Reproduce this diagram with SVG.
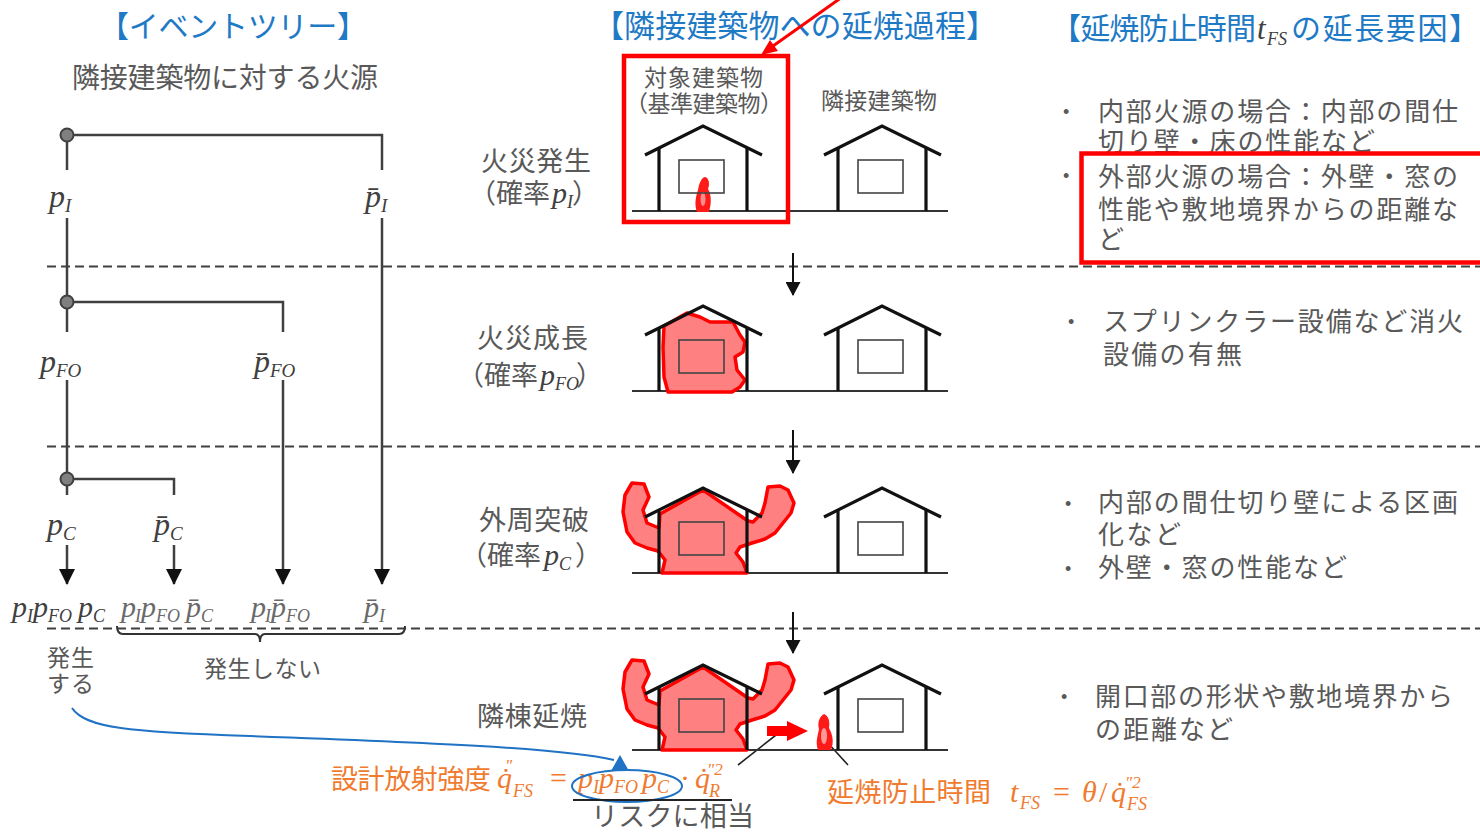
<svg xmlns="http://www.w3.org/2000/svg" xmlns:xlink="http://www.w3.org/1999/xlink" width="1480" height="832" viewBox="0 0 1480 832">
<defs>
<style>
.jp{font-family:"Noto Sans CJK JP","Noto Sans",sans-serif;fill:#595959}
.ttl{fill:#1f7ac6}
.m{font-family:"Liberation Serif",serif;font-style:italic;fill:#404040}
.up{font-family:"Liberation Serif",serif;fill:#404040}
.or{fill:#f07b2f}
.lt{fill:#6a6a6a}
.tree{stroke:#404040;stroke-width:2.5;fill:none}
.node{fill:#808080;stroke:#404040;stroke-width:2}
.sep{stroke:#404040;stroke-width:2;stroke-dasharray:9 5;fill:none}
.hs{stroke:#111;stroke-width:3.2;fill:none}
.win{stroke:#444;stroke-width:1.6;fill:none}
.gnd{stroke:#333;stroke-width:2.2}
.fire{fill:#ff8080;stroke:#ff0000;stroke-width:3.5;stroke-linejoin:round}
.flame{fill:#ff1a1a}
.hl{fill:none;stroke:#ff0000;stroke-width:4.5}
.bul{font-family:"Liberation Sans",sans-serif;font-size:18px;fill:#595959}
</style>
<marker id="ah-tree" markerUnits="userSpaceOnUse" markerWidth="16" markerHeight="16" viewBox="0 0 16 16" refX="15" refY="8" orient="auto">
<path d="M0,0 L16,8 L0,16 Z" fill="#111"/>
</marker>
<marker id="ah-step" markerUnits="userSpaceOnUse" markerWidth="14" markerHeight="15" viewBox="0 0 14 15" refX="13" refY="7.5" orient="auto">
<path d="M0,0 L14,7.5 L0,15 Z" fill="#111"/>
</marker>
<g id="house">
<polyline class="hs" points="-58,-56 0,-85 59,-56"/>
<path class="hs" d="M-44,-63V0M44,-63V0"/>
<rect class="win" x="-24" y="-51" width="45" height="33"/>
</g>
<path id="breach-fire" d="M659,528 L647,523 L643,510 L649,497 L644,484 L632,483 L625,495 L623,512 L627,532 L635,543 L647,548 L658,551 L665,560 L662,573 L747,573 L743,562 L736,553 L740,547 L752,543 L765,539 L775,533 L783,523 L791,513 L794,503 L788,490 L780,486 L768,487 L765,503 L762,513 L753,522 L748,521 L703,490 L660,514 Z"/>
</defs>

<rect width="1480" height="832" fill="#ffffff"/>

<!-- column headings -->
<g id="headings">
<text class="jp ttl" x="99" y="37" font-size="30" textLength="268" lengthAdjust="spacing">【イベントツリー】</text>
<text class="jp ttl" x="593" y="37" font-size="31" textLength="404" lengthAdjust="spacing">【隣接建築物への延焼過程】</text>
<text class="jp ttl" x="1051" y="39" font-size="30" textLength="205" lengthAdjust="spacing">【延焼防止時間</text>
<text class="m ttl" x="1257" y="39" font-size="31">t</text>
<text class="m ttl" x="1267" y="45" font-size="18">FS</text>
<text class="jp ttl" x="1291" y="39" font-size="30" textLength="188" lengthAdjust="spacing">の延長要因】</text>
<text class="jp" x="72" y="88" font-size="28" textLength="306" lengthAdjust="spacing">隣接建築物に対する火源</text>
</g>

<!-- stage separators -->
<g id="separators">
<line class="sep" x1="47" y1="266.5" x2="1480" y2="266.5"/>
<line class="sep" x1="47" y1="446.5" x2="1480" y2="446.5"/>
<line class="sep" x1="47" y1="628.5" x2="1480" y2="628.5"/>
</g>

<!-- event tree branches and step arrows -->
<g id="connectors">
<path class="tree" d="M67,170 V135 H382 V170"/>
<path class="tree" d="M67,218 V332"/>
<path class="tree" d="M67,302 H283 V332"/>
<path class="tree" d="M382,218 V584" marker-end="url(#ah-tree)"/>
<path class="tree" d="M67,380 V495"/>
<path class="tree" d="M67,479 H174 V495"/>
<path class="tree" d="M283,380 V584" marker-end="url(#ah-tree)"/>
<path class="tree" d="M67,545 V584" marker-end="url(#ah-tree)"/>
<path class="tree" d="M174,545 V584" marker-end="url(#ah-tree)"/>
<line x1="793" y1="253" x2="793" y2="295" stroke="#111" stroke-width="2" marker-end="url(#ah-step)"/>
<line x1="793" y1="430" x2="793" y2="473" stroke="#111" stroke-width="2" marker-end="url(#ah-step)"/>
<line x1="793" y1="612" x2="793" y2="653" stroke="#111" stroke-width="2" marker-end="url(#ah-step)"/>
<!-- pointer to the reference building -->
<line x1="845" y1="-5" x2="773" y2="46" stroke="#ff0000" stroke-width="3"/>
<polygon points="761,55 770,40 778,51" fill="#ff0000"/>
<!-- risk link -->
<path d="M72,708 C85,728 130,732 250,736 C420,742 560,748 614,760" fill="none" stroke="#1f72c4" stroke-width="2"/>
<polygon points="611,771 629,771 620,755" fill="#1f72c4"/>
<!-- leader lines -->
<line x1="738" y1="765" x2="785" y2="728" stroke="#222" stroke-width="1.6"/>
<line x1="827" y1="742" x2="848" y2="765" stroke="#222" stroke-width="1.6"/>
</g>

<!-- event tree nodes -->
<g id="tree-node-ignition"><circle class="node" cx="67" cy="135" r="6.5"/></g>
<g id="tree-node-growth"><circle class="node" cx="67" cy="302" r="6.5"/></g>
<g id="tree-node-breach"><circle class="node" cx="67" cy="479" r="6.5"/></g>

<g id="label-pI">
<text class="m" x="49" y="207" font-size="32">p<tspan font-size="19" dy="5">I</tspan></text>
<text class="m" x="365" y="207" font-size="32">p̄<tspan font-size="19" dy="5">I</tspan></text>
</g>
<g id="label-pFO">
<text class="m" x="40" y="372" font-size="32">p<tspan font-size="19" dy="5">FO</tspan></text>
<text class="m" x="254" y="372" font-size="32">p̄<tspan font-size="19" dy="5">FO</tspan></text>
</g>
<g id="label-pC">
<text class="m" x="47" y="535" font-size="32">p<tspan font-size="19" dy="5">C</tspan></text>
<text class="m" x="154" y="535" font-size="32">p̄<tspan font-size="19" dy="5">C</tspan></text>
</g>

<!-- outcome probabilities -->
<g id="outcomes" font-size="30">
<text class="m" y="617"><tspan x="12">p</tspan><tspan x="27" dy="5" font-size="18">I</tspan><tspan x="33" dy="-5">p</tspan><tspan x="48" dy="5" font-size="18">FO</tspan><tspan x="78" dy="-5">p</tspan><tspan x="93" dy="5" font-size="18">C</tspan></text>
<text class="m lt" y="617"><tspan x="121">p</tspan><tspan x="135" dy="5" font-size="18">I</tspan><tspan x="141" dy="-5">p</tspan><tspan x="156" dy="5" font-size="18">FO</tspan><tspan x="186" dy="-5">p̄</tspan><tspan x="201" dy="5" font-size="18">C</tspan></text>
<text class="m lt" y="617"><tspan x="251">p</tspan><tspan x="265" dy="5" font-size="18">I</tspan><tspan x="271" dy="-5">p̄</tspan><tspan x="286" dy="5" font-size="18">FO</tspan></text>
<text class="m lt" y="617"><tspan x="364">p̄</tspan><tspan x="379" dy="5" font-size="18">I</tspan></text>
<path d="M117,626 Q117,634 123,634 L255,634 Q260,634 260,642 Q260,634 265,634 L399,634 Q405,634 405,626" fill="none" stroke="#333" stroke-width="2"/>
<text class="jp" x="47" y="666" font-size="23" textLength="47" lengthAdjust="spacing">発生</text>
<text class="jp" x="47" y="692" font-size="23" textLength="47" lengthAdjust="spacing">する</text>
<text class="jp" x="204" y="677" font-size="23" textLength="117" lengthAdjust="spacing">発生しない</text>
</g>

<!-- stage labels -->
<g id="stage-ignition">
<text class="jp" x="481" y="171" font-size="27" textLength="110" lengthAdjust="spacing">火災発生</text>
<text class="jp" x="469" y="203" font-size="27">（確率</text>
<text class="m" x="552" y="203" font-size="30">p<tspan font-size="18" dy="5">I</tspan></text>
<text class="jp" x="572" y="203" font-size="27">）</text>
</g>
<g id="stage-growth">
<text class="jp" x="477" y="348" font-size="27" textLength="111" lengthAdjust="spacing">火災成長</text>
<text class="jp" x="457" y="385" font-size="27">（確率</text>
<text class="m" x="540" y="385" font-size="30">p<tspan font-size="18" dy="5">FO</tspan></text>
<text class="jp" x="576" y="385" font-size="27">）</text>
</g>
<g id="stage-breach">
<text class="jp" x="479" y="530" font-size="27" textLength="110" lengthAdjust="spacing">外周突破</text>
<text class="jp" x="460" y="565" font-size="27">（確率</text>
<text class="m" x="544" y="565" font-size="30">p<tspan font-size="18" dy="5">C</tspan></text>
<text class="jp" x="575" y="565" font-size="27">）</text>
</g>
<g id="stage-spread">
<text class="jp" x="477" y="726" font-size="27" textLength="110" lengthAdjust="spacing">隣棟延焼</text>
</g>

<!-- stage 1: ignition -->
<g id="scene-ignition">
<line class="gnd" x1="632" y1="211" x2="948" y2="211"/>
<path class="flame" d="M697,212 C694,204 696,196 698,190 C699,184 701,178 705,177 C709,178 710,184 708,189 C711,194 712,202 709,212 Z"/>
<ellipse cx="703" cy="199" rx="2.5" ry="7" fill="#ff8c8c"/>
<use xlink:href="#house" x="703" y="211"/>
<use xlink:href="#house" x="882" y="211"/>
<rect class="hl" x="624" y="56" width="164" height="166"/>
<text class="jp" x="644" y="86" font-size="23" textLength="119" lengthAdjust="spacing">対象建築物</text>
<text class="jp" x="625" y="112" font-size="23" textLength="158" lengthAdjust="spacing">（基準建築物）</text>
<text class="jp" x="821" y="109" font-size="23" textLength="116" lengthAdjust="spacing">隣接建築物</text>
</g>

<!-- stage 2: growth -->
<g id="scene-growth">
<line class="gnd" x1="632" y1="391" x2="948" y2="391"/>
<path class="fire" d="M664,326 L687,313 L700,317 L710,322 L733,322 L740,335 L745,342 L743,352 L735,357 L737,370 L745,380 L740,387 L732,392 L668,392 L664,377 L663,347 Z"/>
<use xlink:href="#house" x="703" y="391"/>
<use xlink:href="#house" x="882" y="391"/>
</g>

<!-- stage 3: breach of the envelope -->
<g id="scene-breach">
<line class="gnd" x1="632" y1="573" x2="948" y2="573"/>
<use xlink:href="#breach-fire" class="fire"/>
<use xlink:href="#house" x="703" y="573"/>
<use xlink:href="#house" x="882" y="573"/>
</g>

<!-- stage 4: spread to the neighbour -->
<g id="scene-spread">
<line class="gnd" x1="632" y1="750" x2="948" y2="750"/>
<use xlink:href="#breach-fire" class="fire" y="177"/>
<use xlink:href="#house" x="703" y="750"/>
<use xlink:href="#house" x="882" y="750"/>
<polygon points="767,726 787,726 787,721 808,731 787,741 787,736 767,736" fill="#ff0000"/>
<path class="flame" d="M818,750 C815,742 818,735 819,729 C817,722 820,716 824,714 C829,716 830,722 829,728 C833,735 834,743 831,750 Z"/>
<ellipse cx="824" cy="736" rx="3" ry="8" fill="#ff9a9a"/>
</g>

<!-- design radiation formula -->
<g id="formula-radiation">
<text class="jp or" x="331" y="789" font-size="27" textLength="160" lengthAdjust="spacing">設計放射強度</text>
<text class="m or" x="497" y="788" font-size="30">q̇</text>
<text class="m or" x="505" y="771" font-size="17">"</text>
<text class="m or" x="513" y="797" font-size="18">FS</text>
<text class="up or" x="550" y="788" font-size="30">=</text>
<text class="m or" y="788" font-size="30"><tspan x="578">p</tspan><tspan x="593" dy="5" font-size="18">I</tspan><tspan x="599" dy="-5">p</tspan><tspan x="614" dy="5" font-size="18">FO</tspan><tspan x="642" dy="-5">p</tspan><tspan x="657" dy="5" font-size="18">C</tspan></text>
<ellipse cx="627" cy="786" rx="55" ry="16" fill="none" stroke="#1f72c4" stroke-width="2"/>
<text class="up or" x="680" y="788" font-size="30">·</text>
<text class="m or" x="695" y="788" font-size="30">q̇</text>
<text class="m or" x="707" y="775" font-size="17">"2</text>
<text class="m or" x="709" y="797" font-size="18">R</text>
<line x1="573" y1="800" x2="732" y2="800" stroke="#222" stroke-width="1.8"/>
<text class="jp" x="591" y="826" font-size="27" textLength="163" lengthAdjust="spacing">リスクに相当</text>
</g>

<!-- fire-spread prevention time -->
<g id="formula-time">
<text class="jp or" x="827" y="802" font-size="27" textLength="164" lengthAdjust="spacing">延焼防止時間</text>
<text class="m or" x="1010" y="802" font-size="30">t</text>
<text class="m or" x="1020" y="809" font-size="18">FS</text>
<text class="up or" x="1053" y="802" font-size="30">=</text>
<text class="m or" x="1082" y="802" font-size="30">θ</text>
<text class="up or" x="1099" y="802" font-size="30">/</text>
<text class="m or" x="1111" y="802" font-size="30">q̇</text>
<text class="m or" x="1125" y="788" font-size="17">"2</text>
<text class="m or" x="1127" y="810" font-size="18">FS</text>
</g>

<!-- extension factors -->
<g id="factors-ignition">
<text class="bul" x="1063" y="118">•</text>
<text class="jp" x="1098" y="121" font-size="26" textLength="360" lengthAdjust="spacing">内部火源の場合：内部の間仕</text>
<text class="jp" x="1098" y="151" font-size="26" textLength="277" lengthAdjust="spacing">切り壁・床の性能など</text>
<rect x="1081.5" y="153.5" width="410" height="109" fill="#ffffff" stroke="#ff0000" stroke-width="4.5"/>
<text class="bul" x="1063" y="182">•</text>
<text class="jp" x="1098" y="186" font-size="26" textLength="360" lengthAdjust="spacing">外部火源の場合：外壁・窓の</text>
<text class="jp" x="1098" y="219" font-size="26" textLength="360" lengthAdjust="spacing">性能や敷地境界からの距離な</text>
<text class="jp" x="1098" y="249" font-size="26">ど</text>
</g>
<g id="factors-growth">
<text class="bul" x="1068" y="328">•</text>
<text class="jp" x="1103" y="331" font-size="26" textLength="360" lengthAdjust="spacing">スプリンクラー設備など消火</text>
<text class="jp" x="1103" y="364" font-size="26" textLength="139" lengthAdjust="spacing">設備の有無</text>
</g>
<g id="factors-breach">
<text class="bul" x="1065" y="510">•</text>
<text class="jp" x="1098" y="512" font-size="26" textLength="360" lengthAdjust="spacing">内部の間仕切り壁による区画</text>
<text class="jp" x="1098" y="544" font-size="26" textLength="83" lengthAdjust="spacing">化など</text>
<text class="bul" x="1065" y="575">•</text>
<text class="jp" x="1098" y="577" font-size="26" textLength="249" lengthAdjust="spacing">外壁・窓の性能など</text>
</g>
<g id="factors-spread">
<text class="bul" x="1061" y="703">•</text>
<text class="jp" x="1095" y="706" font-size="26" textLength="358" lengthAdjust="spacing">開口部の形状や敷地境界から</text>
<text class="jp" x="1095" y="739" font-size="26" textLength="138" lengthAdjust="spacing">の距離など</text>
</g>
</svg>
